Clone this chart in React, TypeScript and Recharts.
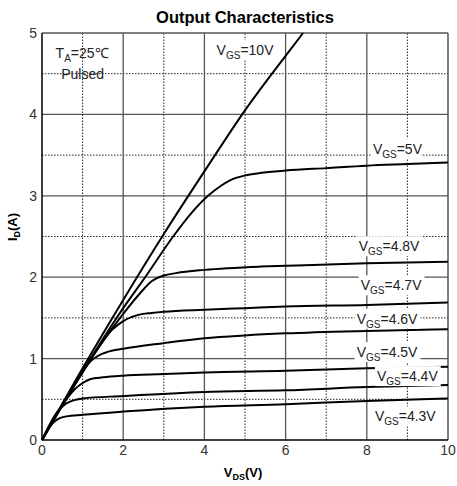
import React from "react"
import { LineChart, Line, XAxis, YAxis, ReferenceLine, ReferenceDot } from "recharts"

// V_DS (x) and I_D (y) for each gate voltage
const vgs10X = [0, 1, 2, 3, 4, 5, 6, 6.43]
const vgs10Y = [0, 0.88, 1.72, 2.53, 3.3, 4.05, 4.72, 5]

const vgs5X = [0, 1, 2, 2.54, 3.23, 3.7, 4.09, 4.4, 4.63, 5, 5.37, 6, 7, 8, 9, 10]
const vgs5Y = [0, 0.84, 1.62, 2, 2.5, 2.8, 3, 3.12, 3.19, 3.25, 3.28, 3.31, 3.34, 3.37, 3.39, 3.41]

const vgs48X = [0, 1, 2, 2.41, 2.7, 3, 3.3, 4, 5.37, 6, 8, 10]
const vgs48Y = [0, 0.84, 1.55, 1.8, 1.95, 2.02, 2.05, 2.09, 2.13, 2.14, 2.17, 2.19]

const vgs47X = [0, 1, 1.72, 2, 2.2, 2.4, 2.7, 3, 4, 5, 6, 8, 10]
const vgs47Y = [0, 0.83, 1.35, 1.46, 1.51, 1.54, 1.56, 1.575, 1.6, 1.62, 1.64, 1.66, 1.69]

const vgs46X = [0, 0.8, 1.2, 1.4, 1.6, 2, 3, 4, 5, 6, 8, 10]
const vgs46Y = [0, 0.68, 0.97, 1.04, 1.08, 1.12, 1.19, 1.25, 1.285, 1.31, 1.34, 1.36]

const vgs45X = [0, 0.6, 0.8, 1, 1.2, 1.5, 2, 3, 4, 6, 8, 10]
const vgs45Y = [0, 0.5, 0.62, 0.7, 0.75, 0.77, 0.79, 0.81, 0.83, 0.85, 0.88, 0.9]

const vgs44X = [0, 0.4, 0.6, 0.8, 1, 2, 4, 6, 8, 10]
const vgs44Y = [0, 0.36, 0.45, 0.49, 0.51, 0.54, 0.59, 0.61, 0.65, 0.675]

const vgs43X = [0, 0.25, 0.4, 0.6, 1, 2, 4, 6, 8, 10]
const vgs43Y = [0, 0.2, 0.26, 0.29, 0.31, 0.35, 0.41, 0.44, 0.48, 0.51]

const xTicks = [0, 2, 4, 6, 8, 10]
const yTicks = [0, 1, 2, 3, 4, 5]
const xMinor = [1, 3, 5, 7, 9]
const xMajor = [2, 4, 6, 8]
const yMinor = [0.5, 1.5, 2.5, 3.5, 4.5]
const yMajor = [1, 2, 3, 4]

// curve labels: value after "V_GS=", anchor (left x, middle y) in data units
const labelText = ["10V", "5V", "4.8V", "4.7V", "4.6V", "4.5V", "4.4V", "4.3V"]
const labelX = [4.3, 8.15, 7.8, 7.85, 7.75, 7.75, 8.25, 8.2]
const labelY = [4.79, 3.58, 2.38, 1.9, 1.49, 1.08, 0.785, 0.29]

const zip = (xs: number[], ys: number[]) => xs.map((v, i) => ({ v, i: ys[i] }))

const series = [
  zip(vgs10X, vgs10Y),
  zip(vgs5X, vgs5Y),
  zip(vgs48X, vgs48Y),
  zip(vgs47X, vgs47Y),
  zip(vgs46X, vgs46Y),
  zip(vgs45X, vgs45Y),
  zip(vgs44X, vgs44Y),
  zip(vgs43X, vgs43Y),
]

const FONT = "Liberation Sans, Arial, sans-serif"

function VgsLabel(props: any) {
  const { viewBox, text } = props
  const x = viewBox.x
  const y = viewBox.y
  const w = 58 + (text.length - 3) * 7.8
  return (
    <g>
      <rect x={x - 2} y={y - 10} width={w} height={20} fill="#fff" />
      <text x={x} y={y + 5} fontFamily={FONT} fontSize={14} fill="#222">
        V
        <tspan fontSize={10} dy={4}>GS</tspan>
        <tspan dy={-4}>={text}</tspan>
      </text>
    </g>
  )
}

function TempLabel(props: any) {
  const { viewBox } = props
  const x = viewBox.x
  const y = viewBox.y
  return (
    <g fontFamily={FONT} fontSize={14} fill="#222">
      <text x={x - 27} y={y + 5}>
        T<tspan fontSize={10} dy={4}>A</tspan>
        <tspan dy={-4}>=25℃</tspan>
      </text>
      <text x={x} y={y + 26} textAnchor="middle">Pulsed</text>
    </g>
  )
}

export default function App() {
  return (
    <div style={{ position: "absolute", left: 0, top: 0, width: 457, height: 486, background: "#fff" }}>
      <LineChart width={457} height={486} margin={{ top: 33, right: 9, left: 12, bottom: 16 }}>
        <text x={245} y={23} textAnchor="middle" fontFamily={FONT} fontSize={16.5} fontWeight="bold" fill="#000">
          Output Characteristics
        </text>
        <text x={243} y={477} textAnchor="middle" fontFamily={FONT} fontSize={13} fontWeight="bold" fill="#000">
          V<tspan fontSize={9} dy={3}>DS</tspan>
          <tspan dy={-3}>(V)</tspan>
        </text>
        <text
          x={17}
          y={227}
          textAnchor="middle"
          transform="rotate(-90 17 227)"
          fontFamily={FONT}
          fontSize={13}
          fontWeight="bold"
          fill="#000"
        >
          I<tspan fontSize={9} dy={3}>D</tspan>
          <tspan dy={-3}>(A)</tspan>
        </text>
        <XAxis
          type="number"
          dataKey="v"
          domain={[0, 10]}
          ticks={xTicks}
          allowDuplicatedCategory={false}
          height={30}
          tickLine={false}
          tickSize={3}
          axisLine={{ stroke: "#000", strokeWidth: 1.5 }}
          tick={{ fontFamily: FONT, fontSize: 14, fill: "#333" }}
        />
        <YAxis
          type="number"
          dataKey="i"
          domain={[0, 5]}
          ticks={yTicks}
          width={30}
          tickLine={false}
          tickSize={3}
          axisLine={{ stroke: "#000", strokeWidth: 1.5 }}
          tick={{ fontFamily: FONT, fontSize: 14, fill: "#333" }}
        />
        {xMinor.map((v) => (
          <ReferenceLine key={"xm" + v} x={v} stroke="#222" strokeDasharray="1.5 1.5" />
        ))}
        {yMinor.map((v) => (
          <ReferenceLine key={"ym" + v} y={v} stroke="#222" strokeDasharray="1.5 1.5" />
        ))}
        {xMajor.map((v) => (
          <ReferenceLine key={"xM" + v} x={v} stroke="#555" strokeWidth={1.3} />
        ))}
        {yMajor.map((v) => (
          <ReferenceLine key={"yM" + v} y={v} stroke="#555" strokeWidth={1.3} />
        ))}
        <ReferenceLine x={10} stroke="#555" strokeWidth={1.5} />
        <ReferenceLine y={5} stroke="#555" strokeWidth={1.5} />
        {series.map((d, k) => (
          <Line
            key={k}
            data={d}
            dataKey="i"
            type="monotone"
            stroke="#000"
            strokeWidth={2}
            dot={false}
            isAnimationActive={false}
          />
        ))}
        {labelText.map((t, k) => (
          <ReferenceDot
            key={"l" + k}
            x={labelX[k]}
            y={labelY[k]}
            r={0}
            fill="none"
            stroke="none"
            label={(p: any) => <VgsLabel {...p} text={t} />}
          />
        ))}
        <ReferenceDot x={1} y={4.75} r={0} fill="none" stroke="none" label={(p: any) => <TempLabel {...p} />} />
      </LineChart>
    </div>
  )
}
